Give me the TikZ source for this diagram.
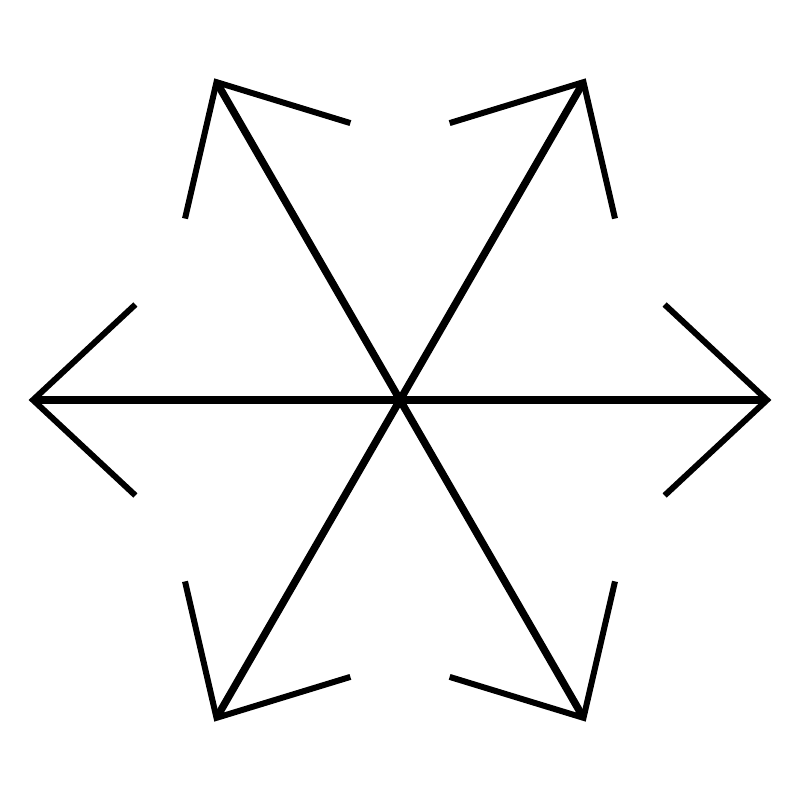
\documentclass[tikz,border=0pt]{standalone}
\usetikzlibrary{calc}
\begin{document}
\begin{tikzpicture}[x=1pt,y=1pt,
  shaft/.style={line width=7.5pt,line cap=butt},
  barb/.style={line width=6pt,line cap=butt,line join=miter}]
\useasboundingbox (0,0) rectangle (800,800);
\coordinate (c) at (400,400);
\foreach \a [count=\i] in {0,60,120,180,240,300}{
  \coordinate (t\i) at ($(c)+(\a:367)$);
  \coordinate (l\i) at ($(t\i)+(\a+180-43:140)$);
  \coordinate (r\i) at ($(t\i)+(\a+180+43:140)$);
  \draw[shaft] (c) -- (t\i);
  \draw[barb] (l\i) -- (t\i) -- (r\i);
}
\end{tikzpicture}
\end{document}
